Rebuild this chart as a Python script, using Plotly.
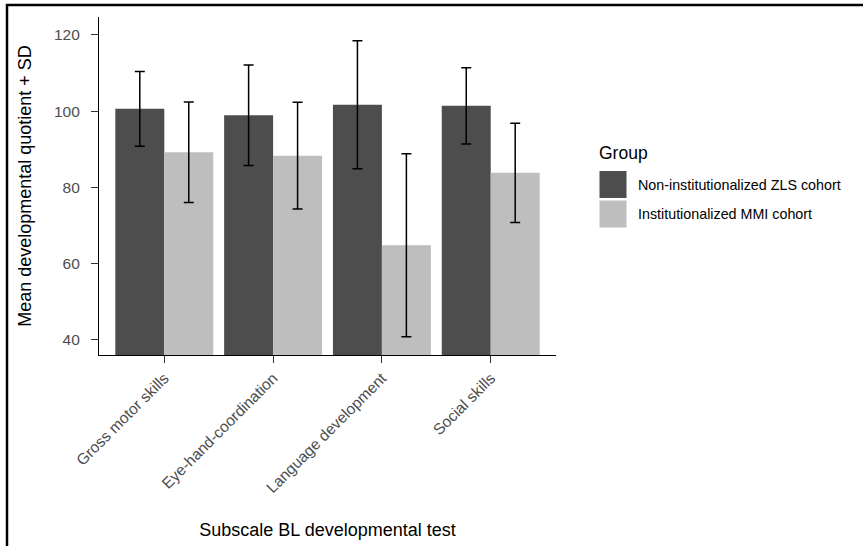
import plotly.graph_objects as go

categories = ["Gross motor skills", "Eye-hand-coordination", "Language development", "Social skills"]
groups = ["Non-institutionalized ZLS cohort", "Institutionalized MMI cohort"]
zls_mean = [100.6, 98.9, 101.7, 101.4]
zls_sd = [9.8, 13.2, 16.8, 10.0]
mmi_mean = [89.2, 88.3, 64.8, 83.8]
mmi_sd = [13.2, 14.0, 24.0, 13.0]
colors = ["#4d4d4d", "#bebebe"]
yticks = [40, 60, 80, 100, 120]

W, H = 863, 546
L, R, T, B = 99, 556, 17, 355

def px(x):
    return (x - L) / (R - L)

def py(y):
    return (B - y) / (B - T)

fig = go.Figure()
for name, means, sds, col in [(groups[0], zls_mean, zls_sd, colors[0]),
                              (groups[1], mmi_mean, mmi_sd, colors[1])]:
    fig.add_trace(go.Bar(
        x=categories, y=means, name=name, marker=dict(color=col, line=dict(width=0)),
        error_y=dict(type="data", array=sds, visible=True, color="black", thickness=1.5, width=5),
        showlegend=False,
    ))

font = "Liberation Sans, Arial, sans-serif"
fig.update_layout(
    width=W, height=H,
    margin=dict(l=L, r=W - R, t=T, b=H - B, autoexpand=False),
    paper_bgcolor="white", plot_bgcolor="white",
    barmode="group", bargap=0.1, bargroupgap=0,
    font=dict(family=font, color="black"),
    xaxis=dict(
        range=[-0.6, 3.6], showline=True, linecolor="black", linewidth=1.2,
        ticks="outside", ticklen=7, tickcolor="#333333", tickwidth=1.2,
        tickangle=-45, tickfont=dict(size=15.5, color="#4d4d4d"), automargin=False,
        title=dict(text="Subscale BL developmental test", font=dict(size=18), standoff=28),
        showgrid=False, zeroline=False,
    ),
    yaxis=dict(
        range=[36, 124.7], showline=True, linecolor="black", linewidth=1.2,
        ticks="outside", ticklen=7, tickcolor="#333333", tickwidth=1.2,
        tickvals=yticks, tickfont=dict(size=15.5, color="#4d4d4d"), automargin=False,
        ticklabelstandoff=8,
        title=dict(text="Mean developmental quotient + SD", font=dict(size=18), standoff=17),
        showgrid=False, zeroline=False,
    ),
)

# custom legend (ggplot style large keys)
fig.add_annotation(xref="paper", yref="paper", x=px(597), y=py(153), text="Group",
                   showarrow=False, xanchor="left", yanchor="middle", font=dict(size=17.5, color="black"))
for i, (g, c) in enumerate(zip(groups, colors)):
    yc = 184.5 + 29.5 * i
    fig.add_shape(type="rect", xref="paper", yref="paper",
                  x0=px(599), x1=px(627), y0=py(yc - 14), y1=py(yc + 14),
                  fillcolor=c, line=dict(color="white", width=1))
    fig.add_annotation(xref="paper", yref="paper", x=px(636), y=py(yc), text=g,
                       showarrow=False, xanchor="left", yanchor="middle",
                       font=dict(size=14.3, color="black"))

# frame lines from the source image (top and left)
fig.add_shape(type="line", xref="paper", yref="paper", x0=px(6), x1=px(870), y0=py(5), y1=py(5),
              line=dict(color="black", width=2.5))
fig.add_shape(type="line", xref="paper", yref="paper", x0=px(7), x1=px(7), y0=py(4), y1=py(560),
              line=dict(color="black", width=2.5))

fig.write_html("out.html", config={"displayModeBar": False},
               post_script="document.body.style.margin='0';document.body.style.overflow='hidden';")
